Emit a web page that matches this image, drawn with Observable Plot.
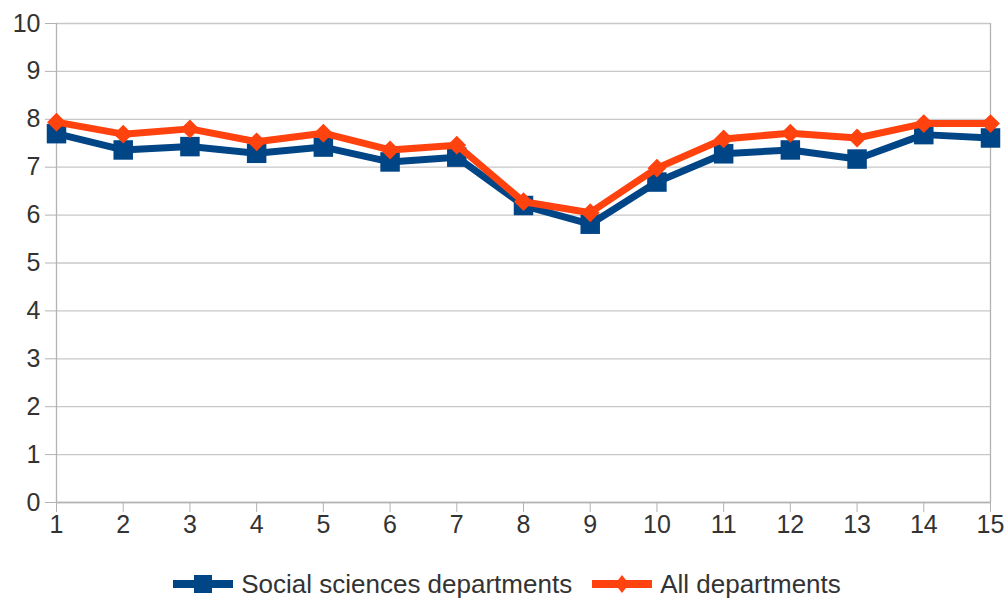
<!DOCTYPE html>
<html>
<head>
<meta charset="utf-8">
<script src="https://cdn.jsdelivr.net/npm/d3@7"></script>
<script src="https://cdn.jsdelivr.net/npm/@observablehq/plot@0.6"></script>
<style>
  body { margin: 0; background: #fff; font-family: "Liberation Sans", Arial, sans-serif; }
  #legend { display: flex; justify-content: center; align-items: center; height: 40px; margin-top: 14px; font-size: 26px; color: #333; gap: 20px; margin-left: 9px; }
  .item { display: flex; align-items: center; gap: 8px; }
  .item svg { display: block; }
</style>
</head>
<body>
<div id="chart"></div>
<div id="legend"></div>
<script>
const xValues = [1, 2, 3, 4, 5, 6, 7, 8, 9, 10, 11, 12, 13, 14, 15];
const socialSciences = [7.70, 7.36, 7.43, 7.29, 7.42, 7.11, 7.21, 6.20, 5.81, 6.69, 7.28, 7.36, 7.17, 7.68, 7.61];
const allDepartments = [7.94, 7.69, 7.80, 7.53, 7.71, 7.36, 7.46, 6.28, 6.05, 6.98, 7.59, 7.71, 7.61, 7.91, 7.91];
const yTicks = [0, 1, 2, 3, 4, 5, 6, 7, 8, 9, 10];
const seriesNames = ["Social sciences departments", "All departments"];
const seriesColors = ["#004586", "#ff420e"];

const social = xValues.map((x, i) => ({x, y: socialSciences[i]}));
const all = xValues.map((x, i) => ({x, y: allDepartments[i]}));

const chart = Plot.plot({
  width: 1005,
  height: 550,
  marginLeft: 56,
  marginRight: 15,
  marginTop: 23,
  marginBottom: 48,
  style: {fontFamily: "Liberation Sans, Arial, sans-serif", fontSize: "25px", color: "#333", background: "#fff"},
  x: {domain: [1, 15]},
  y: {domain: [0, 10]},
  marks: [
    Plot.gridY(yTicks, {stroke: "#c8c8c8", strokeOpacity: 1, strokeWidth: 1.3}),
    Plot.ruleX([1, 15], {stroke: "#b3b3b3", strokeWidth: 1.3}),
    Plot.ruleY([0], {stroke: "#b3b3b3", strokeWidth: 1.3}),
    Plot.axisY(yTicks, {tickSize: 11, tickPadding: 5, stroke: "#b3b3b3", fill: "#333", fontSize: 25, label: null}),
    Plot.axisX(xValues, {tickSize: 10, tickPadding: 3, stroke: "#b3b3b3", fill: "#333", fontSize: 25, label: null}),
    Plot.line(social, {x: "x", y: "y", stroke: seriesColors[0], strokeWidth: 7, strokeLinejoin: "miter"}),
    Plot.dot(social, {x: "x", y: "y", symbol: "square", r: 11, fill: seriesColors[0], stroke: null}),
    Plot.line(all, {x: "x", y: "y", stroke: seriesColors[1], strokeWidth: 7, strokeLinejoin: "miter"}),
    Plot.dot(all, {x: "x", y: "y", symbol: "diamond2", r: 8.5, fill: seriesColors[1], stroke: null})
  ]
});
document.getElementById("chart").appendChild(chart);

const legend = document.getElementById("legend");
const symbols = ["square", "diamond"];
seriesNames.forEach((name, i) => {
  const item = document.createElement("div");
  item.className = "item";
  const marker = symbols[i] === "square"
    ? `<rect x="21" y="3" width="18" height="18" fill="${seriesColors[i]}"/>`
    : `<polygon points="30,3 37,12 30,21 23,12" fill="${seriesColors[i]}"/>`;
  item.innerHTML = `<svg width="60" height="24"><line x1="0" y1="12" x2="60" y2="12" stroke="${seriesColors[i]}" stroke-width="8"/>${marker}</svg><span>${name}</span>`;
  legend.appendChild(item);
});
</script>
</body>
</html>
